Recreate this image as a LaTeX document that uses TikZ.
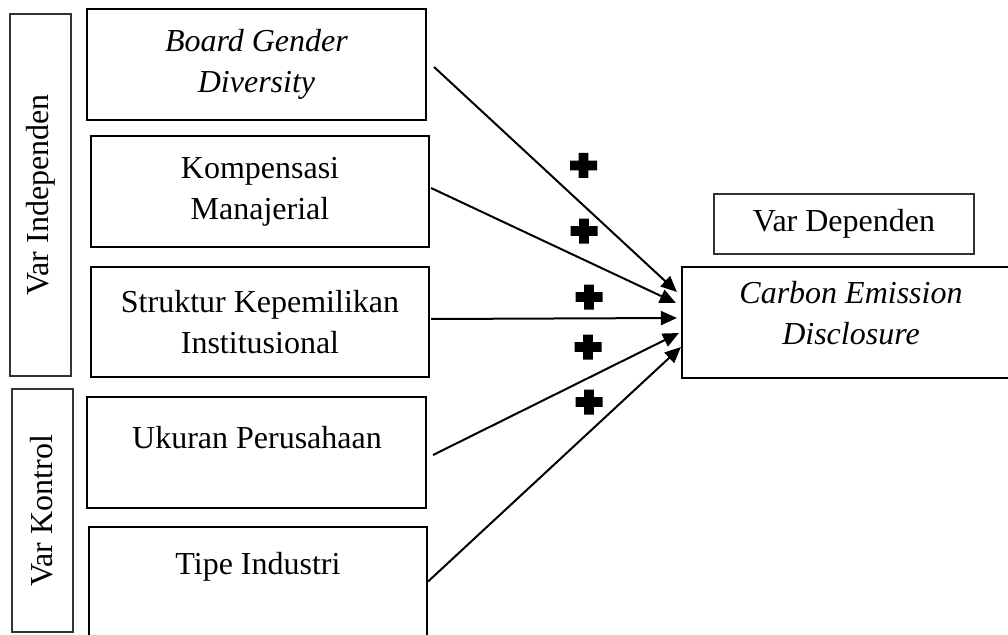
\documentclass[tikz,border=0pt]{standalone}
\usepackage{fontspec}
\setmainfont{Liberation Serif}
\usetikzlibrary{arrows.meta,calc}
\newcommand\boxnode[7]{\node[#6, minimum width={(#4-#2)*0.75pt}, minimum height={(#5-#3)*0.75pt}] (#1) at ({(#2+#4)/2},{(#3+#5)/2}) {#7};}
\newcommand\plussign[2]{\fill[black] (#1-13.5,#2-4.8) -- (#1-4.8,#2-4.8) -- (#1-4.8,#2-12.5) -- (#1+4.8,#2-12.5) -- (#1+4.8,#2-4.8) -- (#1+13.5,#2-4.8) -- (#1+13.5,#2+4.8) -- (#1+4.8,#2+4.8) -- (#1+4.8,#2+12.5) -- (#1-4.8,#2+12.5) -- (#1-4.8,#2+4.8) -- (#1-13.5,#2+4.8) -- cycle;}
\begin{document}
\begin{tikzpicture}[x=0.75pt,y=-0.75pt,
  font=\fontsize{24}{30.5}\selectfont,
  mainbox/.style={draw, line width=1.6pt, align=center, inner sep=0pt},
  varbox/.style={draw, line width=0.9pt, inner sep=0pt, draw=black!80},
  arr/.style={line width=1.5pt, -{Triangle[length=12pt,width=10.5pt]}},
  lbl/.style={inner sep=0pt, align=center}]
\useasboundingbox (0,0) rectangle (1008,635);
\clip (0,0) rectangle (1008,635);
\boxnode{vi}{10}{14}{71}{376}{varbox}{}
\boxnode{vk}{12}{389}{73}{632}{varbox}{}
\node[lbl, rotate=90] (vit) at (41,195) {Var Independen};
\node[lbl, rotate=90] (vkt) at (42,511) {Var Kontrol};
\boxnode{b1}{87}{9}{426}{120}{mainbox}{\textit{Board Gender}\\\textit{Diversity}}
\boxnode{b2}{91}{136}{429}{247}{mainbox}{Kompensasi\\Manajerial}
\boxnode{b3}{91}{267}{429}{377}{mainbox}{Struktur Kepemilikan\\Institusional}
\boxnode{b4}{87}{397}{426}{508}{mainbox}{}
\node[lbl] (b4t) at (257,438) {Ukuran Perusahaan};
\boxnode{b5}{89}{527}{427}{645}{mainbox}{}
\node[lbl] (b5t) at (258,567) {Tipe Industri};
\boxnode{vd}{714}{194}{974}{254}{varbox}{Var Dependen}
\boxnode{c}{682}{267}{1014}{378}{mainbox}{}
\node[lbl] (ct) at (851,313) {\textit{Carbon Emission}\\\textit{Disclosure}};
\draw[arr] ([shift={(7,2.5)}]b1.east) -- ([shift={(-4,-30.5)}]c.west);
\draw[arr] ([shift={(1,-3.5)}]b2.east) -- ([shift={(-5,-19.5)}]c.west);
\draw[arr] ([shift={(1,-3)}]b3.east) -- ([shift={(-4,-4.5)}]c.west);
\draw[arr] ([shift={(6,2.5)}]b4.east) -- ([shift={(-2,10.5)}]c.west);
\draw[arr] ([shift={(0,-4.5)}]b5.east) -- ([shift={(0,24.5)}]c.west);
\plussign{583.5}{165.5}
\plussign{584}{231}
\plussign{589}{297}
\plussign{588}{347}
\plussign{589}{402}
\end{tikzpicture}
\end{document}
